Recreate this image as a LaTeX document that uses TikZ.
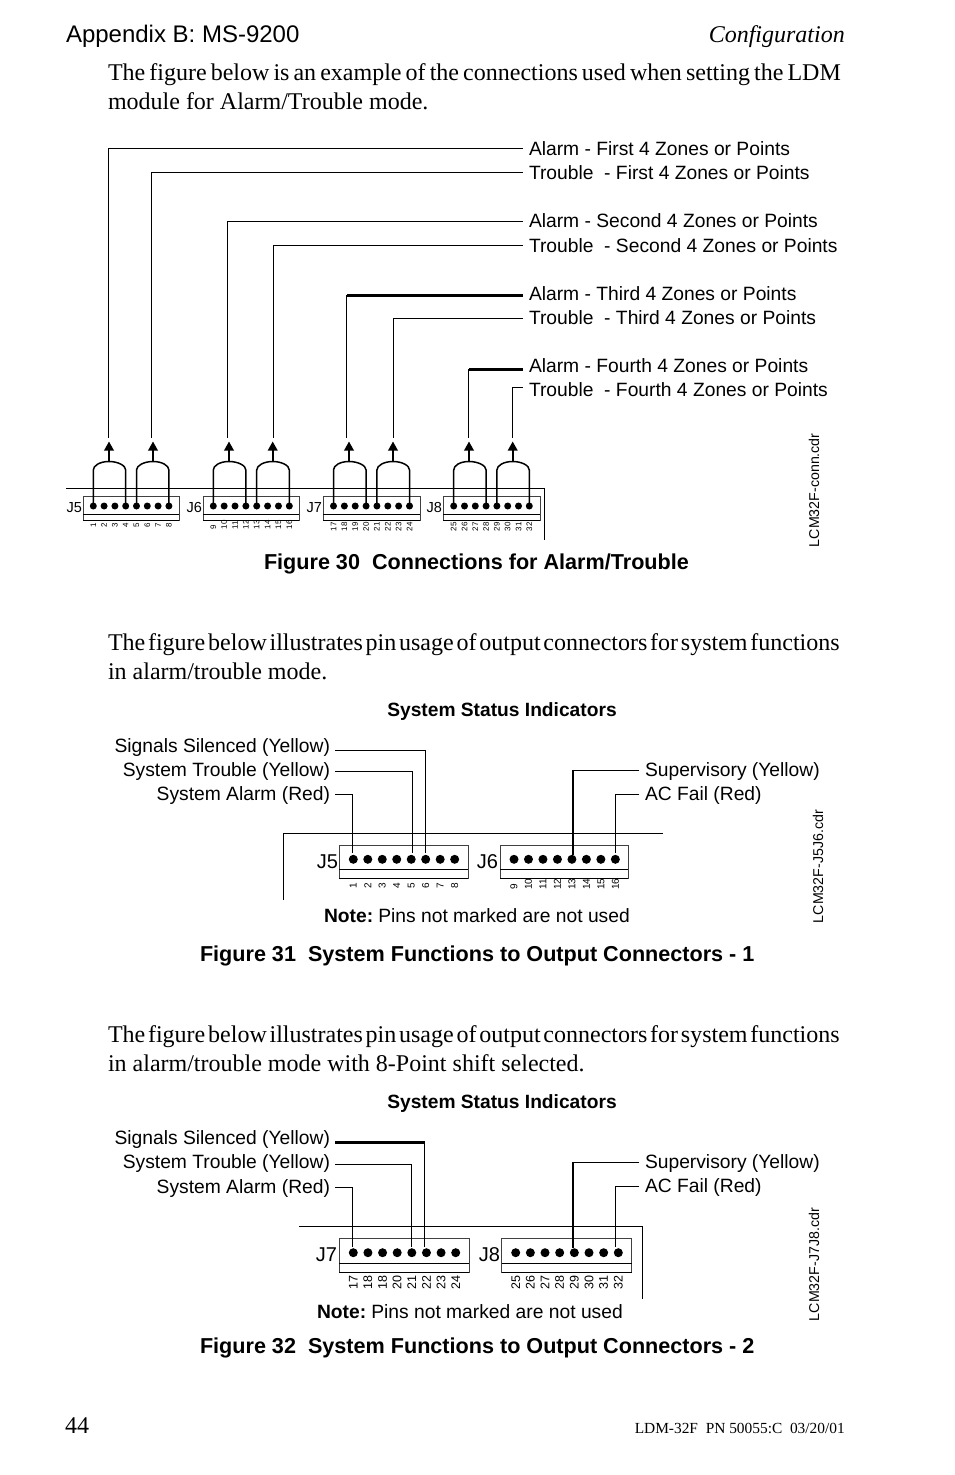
\documentclass[tikz,border=0pt]{standalone}
\usepackage{fontspec}
\setmainfont{Liberation Serif}
\setsansfont{Liberation Sans}
\newfontfamily\tightserif[WordSpace=0.62]{Liberation Serif}
\newfontfamily\firstserif[WordSpace=0.68]{Liberation Serif}
\usetikzlibrary{arrows.meta}
\tikzset{
 txt/.style={inner sep=0pt,outer sep=0pt,font=\sffamily\fontsize{19.25}{22}\selectfont,anchor=base west},
 txtr/.style={txt,anchor=base east},
 body/.style={inner sep=0pt,outer sep=0pt,font=\fontsize{24}{26}\selectfont,anchor=base west},
 bodyt/.style={inner sep=0pt,outer sep=0pt,font=\tightserif\fontsize{24}{26}\selectfont,anchor=base west},
 bodyf/.style={inner sep=0pt,outer sep=0pt,font=\firstserif\fontsize{24}{26}\selectfont,anchor=base west},
 figcap/.style={inner sep=0pt,outer sep=0pt,font=\sffamily\bfseries\fontsize{21.6}{24}\selectfont,anchor=base west},
 stat/.style={inner sep=0pt,outer sep=0pt,font=\sffamily\bfseries\fontsize{19.2}{22}\selectfont,anchor=base},
 cdr/.style={inner sep=0pt,outer sep=0pt,font=\sffamily\fontsize{14.2}{16}\selectfont,rotate=90,anchor=west},
 jlab/.style={inner sep=0pt,outer sep=0pt,anchor=east},
 wire/.style={line width=1pt,black},
 thick wire/.style={line width=2.1pt,black},
 frame/.style={line width=1pt,black},
 loopw/.style={line width=1.5pt,black},
 upw/.style={line width=1.8pt,black,-{Triangle[length=9pt,width=9.5pt]}},
}
\newcommand{\pins}[7]{%
 % name, x0, step, y, diam, bottom, size + list in \numlist
 \foreach \n [count=\k] in \numlist{
  \node[circle,fill=black,inner sep=0pt,minimum size=#5pt] (#1p\k) at ({#2+(\k-1)*#3},#4) {};
  \node[inner sep=0pt,rotate=90,anchor=west,font=\sffamily\fontsize{#7}{#7}\selectfont] (#1n\k) at ({#2+(\k-1)*#3},#6) {\n};
 }
}
\newcommand{\cbox}[6]{%
 % name x0 x1 y0 yline y1
 \draw[line width=0.8pt,black!75] (#2,#4) rectangle (#3,#6);
 \draw[line width=1pt,black] (#2,#5) -- (#3,#5);
 \draw[line width=1pt,black] (#2,#6) -- (#3,#6);
}
\begin{document}
\begin{tikzpicture}[x=1pt,y=-1pt]
\useasboundingbox (0,0) rectangle (954,1475);
% header
\node[txt,font=\sffamily\fontsize{24}{26}\selectfont] (hd) at (66,42) {Appendix B: MS-9200};
\node[inner sep=0pt,anchor=base east,font=\itshape\fontsize{24}{26}\selectfont] (cf) at (845,42) {Configuration};
\node[bodyf] (b1) at (108,80) {The figure below is an example of the connections used when setting the LDM};
\node[body] (b2) at (108,109) {module for Alarm/Trouble mode.};
% figure 30 labels
\node[txt] (a1) at (529,155) {Alarm - First 4 Zones or Points};
\node[txt] (t1) at (529,179) {Trouble\ \ - First 4 Zones or Points};
\node[txt] (a2) at (529,227) {Alarm - Second 4 Zones or Points};
\node[txt] (t2) at (529,252) {Trouble\ \ - Second 4 Zones or Points};
\node[txt] (a3) at (529,300) {Alarm - Third 4 Zones or Points};
\node[txt] (t3) at (529,324) {Trouble\ \ - Third 4 Zones or Points};
\node[txt] (a4) at (529,372) {Alarm - Fourth 4 Zones or Points};
\node[txt] (t4) at (529,396) {Trouble\ \ - Fourth 4 Zones or Points};
% connector frames fig 30
\draw[frame,line width=1.4pt] (66,488.5) -- (544.3,488.5) -- (544.3,540);
\cbox{A}{83}{179}{496}{514}{520.5}
\cbox{B}{203.3}{299}{496}{514}{520.5}
\cbox{C}{323}{420}{496}{514}{520.5}
\cbox{D}{443}{540}{496}{514}{520.5}
\def\numlist{1,2,3,4,5,6,7,8}\pins{A}{93.3}{10.8}{506}{7}{528}{8}
\def\numlist{9,10,11,12,13,14,15,16}\pins{B}{213.3}{10.86}{506}{7}{529.5}{8}
\def\numlist{17,18,19,20,21,22,23,24}\pins{C}{333.5}{10.86}{506}{7}{531.5}{8}
\def\numlist{25,26,27,28,29,30,31,32}\pins{D}{453.7}{10.8}{506}{7}{531.5}{8}
\foreach \nm/\x/\t in {J5a/82/J5,J6a/202/J6,J7a/322/J7,J8a/442/J8}{
 \node[jlab,font=\sffamily\fontsize{14.5}{16}\selectfont] (\nm) at (\x,508) {\t};
}
% arches: start pin, end pin, apex
\foreach \na/\pa/\pb/\ax in {u1/Ap1/Ap4/109,u2/Ap5/Ap8/153,u3/Bp1/Bp4/229,u4/Bp5/Bp8/272.7,u5/Cp1/Cp4/349,u6/Cp5/Cp8/393,u7/Dp1/Dp4/469,u8/Dp5/Dp8/512.7}{
 \coordinate (\na top) at (\ax,461.5);
 \coordinate (\na tip) at (\ax,441.5);
 \draw[loopw,line join=round] (\pa.center) -- (\pa.center |- 0,470) .. controls (\pa.center |- 0,465.5) and (\ax-9,461.5) .. (\na top)
   .. controls (\ax+9,461.5) and (\pb.center |- 0,465.5) .. (\pb.center |- 0,470) -- (\pb.center);
 \draw[upw] (\na top) -- (\na tip);
}
% leader lines fig 30
\coordinate (e1) at (523,148);\coordinate (s1) at (108.5,438);
\coordinate (e2) at (523,172.5);\coordinate (s2) at (151.5,438);
\coordinate (e3) at (523,221);\coordinate (s3) at (227.5,438);
\coordinate (e4) at (523,245.5);\coordinate (s4) at (273.5,438);
\coordinate (e5) at (523,295.5);\coordinate (s5) at (346.5,438);
\coordinate (e6) at (523,318);\coordinate (s6) at (393.5,438);
\coordinate (e7) at (523,369.5);\coordinate (s7) at (468.5,438);
\coordinate (e8) at (523,387);\coordinate (s8) at (512.5,438);
\draw[wire] (e1) -| (s1);
\draw[wire] (e2) -| (s2);
\draw[wire] (e3) -| (s3);
\draw[wire] (e4) -| (s4);
\draw[wire] (e5) -| (s5);
\draw[thick wire] (e5) -- (e5 -| s5);
\draw[wire] (e6) -| (s6);
\draw[wire] (e7) -| (s7);
\draw[thick wire] (e7) -- (e7 -| s7);
\draw[wire] (e8) -| (s8);
\node[cdr] (c30) at (814,547) {LCM32F-conn.cdr};
\node[figcap] (f30) at (264,569) {Figure 30\ \ Connections for Alarm/Trouble};
% paragraph 2
\node[bodyt] (p21) at (108,650) {The figure below illustrates pin usage of output connectors for system functions};
\node[body] (p22) at (108,679) {in alarm/trouble mode.};
% figure 31
\node[stat] (st1) at (502,716) {System Status Indicators};
\node[txtr] (l1) at (330,752) {Signals Silenced (Yellow)};
\node[txtr] (l2) at (330,776) {System Trouble (Yellow)};
\node[txtr] (l3) at (330,800) {System Alarm (Red)};
\node[txt] (r1) at (645,776) {Supervisory (Yellow)};
\node[txt] (r2) at (645,800) {AC Fail (Red)};
\draw[frame] (283.5,900) -- (283.5,833.3) -- (663,833.3);
\cbox{E}{339.3}{468.3}{845.7}{869.3}{878.3}
\cbox{F}{500}{628.3}{845.7}{869.3}{878.3}
\def\numlist{1,2,3,4,5,6,7,8}\pins{E}{353.3}{14.48}{859.3}{9}{888.5}{10}
\def\numlist{9,10,11,12,13,14,15,16}\pins{F}{514}{14.48}{859.3}{9}{890}{10}
\node[jlab,font=\sffamily\fontsize{20}{22}\selectfont] (J5b) at (338,862) {J5};
\node[jlab,font=\sffamily\fontsize{20}{22}\selectfont] (J6b) at (498,862) {J6};
\coordinate (q1) at (335,750.5);\coordinate (q2) at (335,771);\coordinate (q3) at (335,794);
\coordinate (q4) at (639,770);\coordinate (q5) at (639,794);
\coordinate (Fk5) at ([xshift=1pt]Fp5.north);
\draw[wire,shorten >=1.5pt] (q1) -| (Ep6.north);
\draw[wire,shorten >=1.5pt] (q2) -| ([xshift=0.8pt]Ep5.north);
\draw[wire,shorten >=1.5pt] (q3) -| ([xshift=-0.8pt]Ep1.north);
\draw[wire] (q4) -| (Fk5);
\draw[thick wire] (q4 -| Fk5) -- (Fk5);
\draw[wire,shorten >=1.5pt] (q5) -| (Fp8.north);
\node[cdr] (c31) at (818,923) {LCM32F-J5J6.cdr};
\node[txt] (n31) at (324,922) {\textbf{Note:}\hspace{-2pt} Pins not marked are not used};
\node[figcap] (f31) at (200,961) {Figure 31\ \ System Functions to Output Connectors - 1};
% paragraph 3
\node[bodyt] (p31) at (108,1042) {The figure below illustrates pin usage of output connectors for system functions};
\node[body] (p32) at (108,1071) {in alarm/trouble mode with 8-Point shift selected.};
% figure 32
\node[stat] (st2) at (502,1108) {System Status Indicators};
\node[txtr] (m1) at (330,1144) {Signals Silenced (Yellow)};
\node[txtr] (m2) at (330,1168) {System Trouble (Yellow)};
\node[txtr] (m3) at (330,1193) {System Alarm (Red)};
\node[txt] (w1) at (645,1168) {Supervisory (Yellow)};
\node[txt] (w2) at (645,1192) {AC Fail (Red)};
\draw[frame] (299,1226) -- (642.7,1226) -- (642.7,1299);
\cbox{G}{339.3}{469.3}{1238.7}{1263.3}{1272}
\cbox{H}{501.7}{631.7}{1238.7}{1263.3}{1272}
\def\numlist{17,18,18,20,21,22,23,24}\pins{G}{353.3}{14.63}{1252.7}{9}{1290}{12.5}
\def\numlist{25,26,27,28,29,30,31,32}\pins{H}{515.7}{14.66}{1252.7}{9}{1290}{12.5}
\node[jlab,font=\sffamily\fontsize{20}{22}\selectfont] (J7b) at (337,1255) {J7};
\node[jlab,font=\sffamily\fontsize{20}{22}\selectfont] (J8b) at (500,1255) {J8};
\coordinate (v1) at (335,1142.5);\coordinate (v2) at (335,1164);\coordinate (v3) at (335,1187);
\coordinate (v4) at (639,1162);\coordinate (v5) at (639,1186);
\coordinate (Gk6) at ([xshift=-1.5pt]Gp6.north);
\coordinate (Hk5) at ([xshift=-1.3pt]Hp5.north);
\draw[wire,shorten >=1.5pt] (v1) -| (Gk6);
\draw[thick wire] (v1) -- (v1 -| Gk6);
\draw[wire,shorten >=1.5pt] (v2) -| (Gp5.north);
\draw[wire,shorten >=1.5pt] (v3) -| ([xshift=-1pt]Gp1.north);
\draw[wire] (v4) -| (Hk5);
\draw[thick wire] (v4 -| Hk5) -- (Hk5);
\draw[wire,shorten >=1.5pt] (v5) -| ([xshift=-2.6pt]Hp8.north);
\node[cdr] (c32) at (814,1321) {LCM32F-J7J8.cdr};
\node[txt] (n32) at (317,1318) {\textbf{Note:}\hspace{-2pt} Pins not marked are not used};
\node[figcap] (f32) at (200,1353) {Figure 32\ \ System Functions to Output Connectors - 2};
% footer
\node[body] (pg) at (65,1433) {44};
\node[inner sep=0pt,anchor=base east,font=\fontsize{15.4}{17}\selectfont] (ft) at (845,1433) {LDM-32F\ \ PN 50055:C\ \ 03/20/01};
\end{tikzpicture}
\end{document}
